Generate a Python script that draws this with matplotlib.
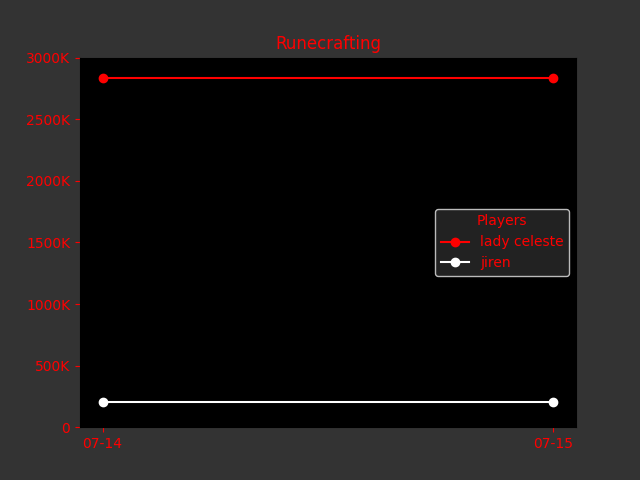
import matplotlib
matplotlib.use('Agg')
import matplotlib.pyplot as plt
from matplotlib.ticker import FuncFormatter

# data
dates = ['07-14', '07-15']
players = ['lady celeste', 'jiren']
lady_celeste = [2838000, 2838000]
jiren = [205000, 205000]
colors = ['red', 'white']

fig, ax = plt.subplots(figsize=(6.4, 4.8), dpi=100)
fig.patch.set_facecolor('#333333')
ax.set_facecolor('black')

for name, vals, c in zip(players, [lady_celeste, jiren], colors):
    ax.plot(dates, vals, marker='o', color=c, label=name)

ax.set_ylim(0, 3000000)
ax.yaxis.set_major_formatter(FuncFormatter(lambda v, p: '0' if v == 0 else f'{int(v / 1000)}K'))
ax.tick_params(colors='red')
for s in ax.spines.values():
    s.set_color('black')

ax.set_title('Runecrafting', color='red')

leg = ax.legend(title='Players', loc='center right', facecolor='#222222',
                edgecolor='#bbbbbb', framealpha=1)
leg.get_title().set_color('red')
for t in leg.get_texts():
    t.set_color('red')

plt.savefig('out.png', facecolor=fig.get_facecolor())
